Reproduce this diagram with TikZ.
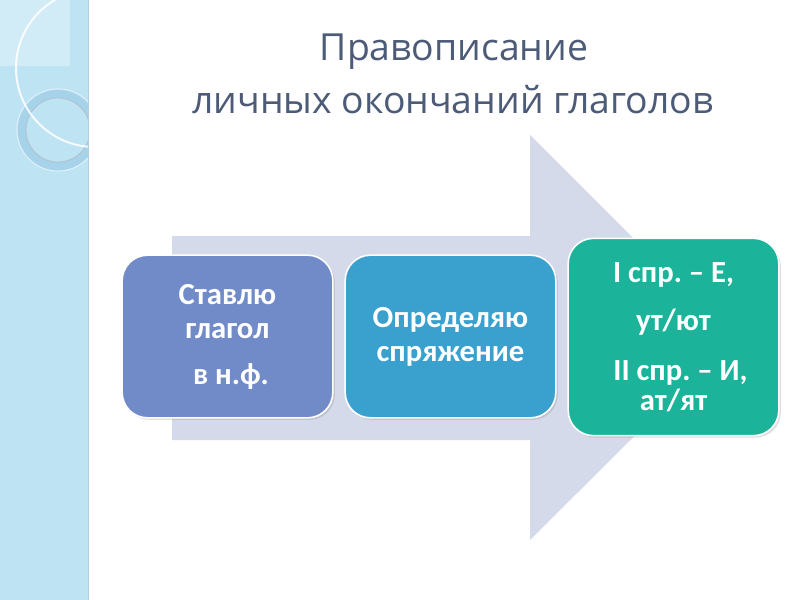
\documentclass[tikz,border=0pt]{standalone}
\usepackage{fontspec}
\setmainfont{Carlito}
\newfontfamily\titlefont{Open Sans}
\usetikzlibrary{shadows}
\definecolor{stripc}{HTML}{BEE4F4}
\definecolor{ringc}{HTML}{A6D2EA}
\definecolor{arrowc}{HTML}{D5DAEA}
\definecolor{boxa}{HTML}{718BC8}
\definecolor{boxb}{HTML}{3AA1CF}
\definecolor{boxc}{HTML}{1CB39B}
\definecolor{titlec}{HTML}{4B5B78}
\tikzset{
  stepbox/.style={draw=white, line width=1.2pt, rounded corners=19pt, text=white,
    font=\bfseries\fontsize{23pt}{25.5pt}\selectfont, align=center, inner sep=0pt,
    drop shadow={shadow xshift=1.5pt, shadow yshift=-1.5pt, opacity=0.25}},
  titletext/.style={text=titlec, font=\titlefont\fontsize{28pt}{34pt}\selectfont, inner sep=0pt}
}
\begin{document}
\begin{tikzpicture}[x=0.75pt,y=-0.75pt]
\useasboundingbox (0,0) rectangle (800,600);
\fill[white] (0,0) rectangle (800,600);
% left decorative strip
\fill[stripc] (0,0) rectangle (88,600);
\begin{scope}
  \clip (0,0) rectangle (88,600);
  \fill[white, opacity=0.3] (0,0) rectangle (70,66);
  \fill[ringc, even odd rule] (58,130) circle (41) (58,130) circle (32);
  \draw[white, opacity=0.6, line width=0.8pt] (58,130) circle (41);
  \draw[gray!60, opacity=0.6, line width=0.6pt] (58,130) circle (32);
  \draw[white, opacity=0.85, line width=1.5pt] (95,68) circle (79);
\end{scope}
\draw[stripc!80!gray, line width=0.6pt] (88,0) -- (88,600);
% title
\node[titletext] (t1) at (454,52) {Правописание};
\node[titletext] (t2) at (453,100) {личных окончаний глаголов};
% big arrow
\fill[arrowc] (172,236) -- (530,236) -- (530,135) -- (733,338) -- (530,540) -- (530,440) -- (172,440) -- cycle;
% boxes
\node[stepbox, fill=boxa, minimum width=158pt, minimum height=122pt] (b1) at (227.5,336.5)
  {Ставлю\\глагол\\[9pt]\ в н.ф.};
\node[stepbox, fill=boxb, minimum width=158pt, minimum height=122pt] (b2) at (450.5,336.5)
  {Определяю\\спряжение};
\node[stepbox, fill=boxc, minimum width=158pt, minimum height=148pt] (b3) at (673.5,337)
  {I спр.~– Е,\\[10.5pt]ут/ют\\[12pt]\ \ II спр.~– И,\\[-3pt]ат/ят};
\end{tikzpicture}
\end{document}
